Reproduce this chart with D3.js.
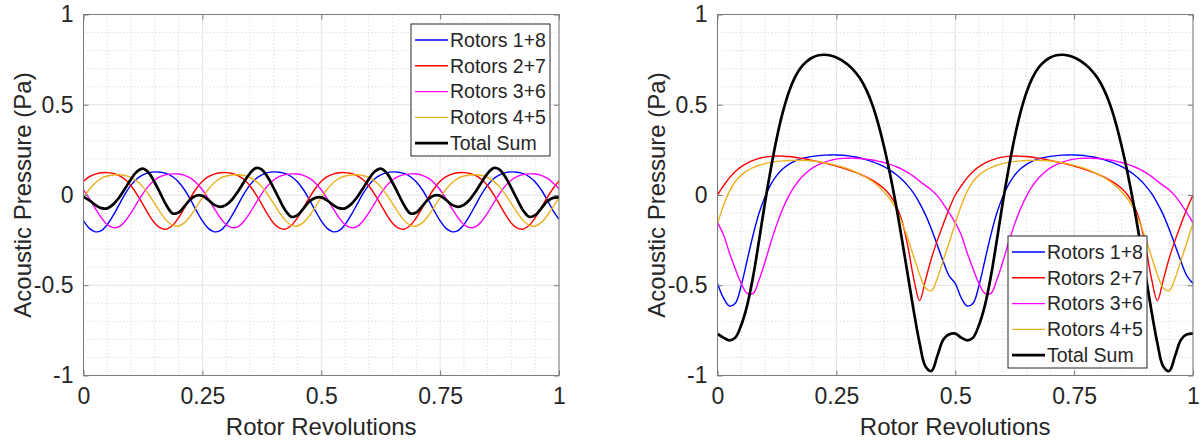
<!DOCTYPE html>
<html>
<head>
<meta charset="utf-8">
<script src="https://cdn.jsdelivr.net/npm/d3@7"></script>
<style>
  body { margin: 0; background: #fff; }
  svg { display: block; }
  text { font-family: "Liberation Sans", Arial, Helvetica, sans-serif; fill: #262626; }
</style>
</head>
<body>
<svg id="fig" width="1204" height="444"></svg>
<script>
// Sample positions along one rotor revolution (step 1/80).
const revs = d3.range(81).map(i => i / 80);

const seriesNames = ["Rotors 1+8", "Rotors 2+7", "Rotors 3+6", "Rotors 4+5", "Total Sum"];
const xTicks = [0, 0.25, 0.5, 0.75, 1];
const xTickLabels = ["0", "0.25", "0.5", "0.75", "1"];
const yTicks = [-1, -0.5, 0, 0.5, 1];
const yTickLabels = ["-1", "-0.5", "0", "0.5", "1"];
const xLabel = "Rotor Revolutions";
const yLabel = "Acoustic Pressure (Pa)";

// ---- Left panel: acoustic pressure per rotor pair (Pa) ----
const leftRotors18 = [
  -0.143,-0.185,-0.204,-0.197,-0.164,-0.113,-0.053,0.006,0.055,0.090,0.112,0.124,0.128,0.126,0.118,0.101,0.072,0.029,-0.026,-0.087,
  -0.143,-0.185,-0.204,-0.197,-0.164,-0.113,-0.053,0.006,0.055,0.090,0.112,0.124,0.128,0.126,0.118,0.101,0.072,0.029,-0.026,-0.087,
  -0.143,-0.185,-0.204,-0.197,-0.164,-0.113,-0.053,0.006,0.055,0.090,0.112,0.124,0.128,0.126,0.118,0.101,0.072,0.029,-0.026,-0.087,
  -0.143,-0.185,-0.204,-0.197,-0.164,-0.113,-0.053,0.006,0.055,0.090,0.112,0.124,0.128,0.126,0.118,0.101,0.072,0.029,-0.026,-0.087,
  -0.135];
const leftRotors27 = [
  0.076,0.102,0.116,0.123,0.124,0.119,0.108,0.086,0.051,0.003,-0.052,-0.109,-0.156,-0.184,-0.189,-0.168,-0.126,-0.071,-0.015,0.036,
  0.076,0.102,0.116,0.123,0.124,0.119,0.108,0.086,0.051,0.003,-0.052,-0.109,-0.156,-0.184,-0.189,-0.168,-0.126,-0.071,-0.015,0.036,
  0.076,0.102,0.116,0.123,0.124,0.119,0.108,0.086,0.051,0.003,-0.052,-0.109,-0.156,-0.184,-0.189,-0.168,-0.126,-0.071,-0.015,0.036,
  0.076,0.102,0.116,0.123,0.124,0.119,0.108,0.086,0.051,0.003,-0.052,-0.109,-0.156,-0.184,-0.189,-0.168,-0.126,-0.071,-0.015,0.036,
  0.078];
const leftRotors36 = [
  0.029,-0.021,-0.075,-0.126,-0.164,-0.181,-0.175,-0.145,-0.099,-0.045,0.008,0.052,0.083,0.103,0.113,0.117,0.116,0.109,0.093,0.067,
  0.029,-0.021,-0.075,-0.126,-0.164,-0.181,-0.175,-0.145,-0.099,-0.045,0.008,0.052,0.083,0.103,0.113,0.117,0.116,0.109,0.093,0.067,
  0.029,-0.021,-0.075,-0.126,-0.164,-0.181,-0.175,-0.145,-0.099,-0.045,0.008,0.052,0.083,0.103,0.113,0.117,0.116,0.109,0.093,0.067,
  0.029,-0.021,-0.075,-0.126,-0.164,-0.181,-0.175,-0.145,-0.099,-0.045,0.008,0.052,0.083,0.103,0.113,0.117,0.116,0.109,0.093,0.067,
  0.035];
const leftRotors45 = [
  -0.014,0.032,0.068,0.092,0.105,0.111,0.112,0.108,0.097,0.077,0.045,0.002,-0.048,-0.099,-0.142,-0.168,-0.172,-0.153,-0.115,-0.066,
  -0.014,0.032,0.068,0.092,0.105,0.111,0.112,0.108,0.097,0.077,0.045,0.002,-0.048,-0.099,-0.142,-0.168,-0.172,-0.153,-0.115,-0.066,
  -0.014,0.032,0.068,0.092,0.105,0.111,0.112,0.108,0.097,0.077,0.045,0.002,-0.048,-0.099,-0.142,-0.168,-0.172,-0.153,-0.115,-0.066,
  -0.014,0.032,0.068,0.092,0.105,0.111,0.112,0.108,0.097,0.077,0.045,0.002,-0.048,-0.099,-0.142,-0.168,-0.172,-0.153,-0.115,-0.066,
  -0.016];
const leftTotal = [
  -0.010,-0.030,-0.055,-0.073,-0.074,-0.052,-0.014,0.036,0.088,0.130,0.146,0.122,0.068,0.004,-0.060,-0.102,-0.097,-0.062,-0.024,-0.003,
  -0.004,-0.027,-0.055,-0.066,-0.055,-0.025,0.020,0.072,0.120,0.149,0.141,0.098,0.038,-0.027,-0.087,-0.121,-0.112,-0.075,-0.036,-0.016,
  -0.013,-0.030,-0.055,-0.073,-0.074,-0.052,-0.014,0.036,0.088,0.130,0.146,0.122,0.068,0.004,-0.060,-0.102,-0.097,-0.062,-0.024,-0.003,
  -0.004,-0.027,-0.055,-0.066,-0.055,-0.025,0.020,0.072,0.120,0.149,0.141,0.098,0.038,-0.027,-0.087,-0.121,-0.112,-0.075,-0.036,-0.016,
  -0.013];

// ---- Right panel: acoustic pressure per rotor pair (Pa) ----
const rightRotors18 = [
  -0.49,-0.57,-0.615,-0.60,-0.50,-0.36,-0.22,-0.10,-0.01,0.06,0.11,0.145,0.17,0.188,0.20,0.208,0.214,0.218,0.221,0.222,
  0.222,0.220,0.217,0.212,0.205,0.196,0.185,0.172,0.157,0.138,0.115,0.087,0.052,0.010,-0.045,-0.11,-0.19,-0.28,-0.37,-0.45,
  -0.49,-0.57,-0.615,-0.60,-0.50,-0.36,-0.22,-0.10,-0.01,0.06,0.11,0.145,0.17,0.188,0.20,0.208,0.214,0.218,0.221,0.222,
  0.222,0.220,0.217,0.212,0.205,0.196,0.185,0.172,0.157,0.138,0.115,0.087,0.052,0.010,-0.045,-0.11,-0.19,-0.28,-0.37,-0.45,
  -0.49];
const rightRotors27 = [
  0.000,0.050,0.095,0.130,0.157,0.177,0.192,0.203,0.210,0.214,0.216,0.215,0.213,0.209,0.204,0.198,0.191,0.184,0.177,0.169,
  0.160,0.150,0.140,0.128,0.115,0.100,0.082,0.062,0.036,0.000,-0.055,-0.14,-0.28,-0.46,-0.585,-0.47,-0.35,-0.25,-0.16,-0.075,
  0.000,0.050,0.095,0.130,0.157,0.177,0.192,0.203,0.210,0.214,0.216,0.215,0.213,0.209,0.204,0.198,0.191,0.184,0.177,0.169,
  0.160,0.150,0.140,0.128,0.115,0.100,0.082,0.062,0.036,0.000,-0.055,-0.14,-0.28,-0.46,-0.585,-0.47,-0.35,-0.25,-0.16,-0.075,
  0.000];
const rightRotors36 = [
  -0.153,-0.22,-0.32,-0.41,-0.49,-0.545,-0.545,-0.47,-0.37,-0.26,-0.16,-0.075,-0.005,0.05,0.093,0.125,0.150,0.168,0.182,0.192,
  0.199,0.203,0.204,0.204,0.202,0.199,0.194,0.188,0.180,0.170,0.158,0.143,0.125,0.103,0.077,0.052,0.028,-0.005,-0.05,-0.10,
  -0.153,-0.22,-0.32,-0.41,-0.49,-0.545,-0.545,-0.47,-0.37,-0.26,-0.16,-0.075,-0.005,0.05,0.093,0.125,0.150,0.168,0.182,0.192,
  0.199,0.203,0.204,0.204,0.202,0.199,0.194,0.188,0.180,0.170,0.158,0.143,0.125,0.103,0.077,0.052,0.028,-0.005,-0.05,-0.10,
  -0.153];
const rightRotors45 = [
  -0.157,-0.06,0.02,0.075,0.11,0.135,0.152,0.165,0.174,0.181,0.186,0.189,0.191,0.192,0.192,0.191,0.188,0.184,0.179,0.172,
  0.164,0.155,0.144,0.131,0.116,0.098,0.076,0.05,0.018,-0.022,-0.075,-0.15,-0.24,-0.34,-0.44,-0.515,-0.53,-0.46,-0.36,-0.26,
  -0.157,-0.06,0.02,0.075,0.11,0.135,0.152,0.165,0.174,0.181,0.186,0.189,0.191,0.192,0.192,0.191,0.188,0.184,0.179,0.172,
  0.164,0.155,0.144,0.131,0.116,0.098,0.076,0.05,0.018,-0.022,-0.075,-0.15,-0.24,-0.34,-0.44,-0.515,-0.53,-0.46,-0.36,-0.26,
  -0.157];
const rightTotal = [
  -0.77,-0.79,-0.805,-0.79,-0.72,-0.61,-0.45,-0.25,-0.04,0.15,0.32,0.46,0.57,0.65,0.705,0.74,0.762,0.774,0.777,0.773,
  0.762,0.745,0.72,0.688,0.645,0.585,0.505,0.40,0.27,0.12,-0.05,-0.24,-0.44,-0.64,-0.82,-0.95,-0.975,-0.89,-0.80,-0.772,
  -0.768,-0.79,-0.805,-0.79,-0.72,-0.61,-0.45,-0.25,-0.04,0.15,0.32,0.46,0.57,0.65,0.705,0.74,0.762,0.774,0.777,0.773,
  0.762,0.745,0.72,0.688,0.645,0.585,0.505,0.40,0.27,0.12,-0.05,-0.24,-0.44,-0.64,-0.82,-0.95,-0.975,-0.89,-0.80,-0.772,
  -0.768];

const seriesColors = ["#0000ff", "#ff0000", "#ff00ff", "#edb120", "#000000"];
const seriesWidths = [1.4, 1.4, 1.4, 1.4, 2.7];

const panels = [
  { id: "left",  x0: 83.5,  x1: 559,  legend: { x: 411,  y: 24 },
    series: [leftRotors18, leftRotors27, leftRotors36, leftRotors45, leftTotal] },
  { id: "right", x0: 717.5, x1: 1193, legend: { x: 1008, y: 236 },
    series: [rightRotors18, rightRotors27, rightRotors36, rightRotors45, rightTotal] }
];
const plotTop = 14.5, plotBottom = 375.5;

const svg = d3.select("#fig");

panels.forEach(p => {
  const x = d3.scaleLinear().domain([0, 1]).range([p.x0, p.x1]);
  const y = d3.scaleLinear().domain([-1, 1]).range([plotBottom, plotTop]);
  const g = svg.append("g").attr("class", "panel-" + p.id);

  // Minor grid (dotted)
  const near = (v, arr) => arr.some(t => Math.abs(t - v) < 1e-6);
  const xMinor = d3.range(0, 1.0001, 0.05).filter(v => !near(v, xTicks));
  const yMinor = d3.range(-1, 1.0001, 0.1).filter(v => !near(v, yTicks));
  g.append("g").selectAll("line").data(xMinor).join("line")
    .attr("x1", d => x(d)).attr("x2", d => x(d))
    .attr("y1", plotTop).attr("y2", plotBottom)
    .attr("stroke", "#d9d9d9").attr("stroke-width", 1).attr("stroke-dasharray", "1.2,2.4");
  g.append("g").selectAll("line").data(yMinor).join("line")
    .attr("x1", p.x0).attr("x2", p.x1)
    .attr("y1", d => y(d)).attr("y2", d => y(d))
    .attr("stroke", "#d9d9d9").attr("stroke-width", 1).attr("stroke-dasharray", "1.2,2.4");

  // Major grid (solid)
  g.append("g").selectAll("line").data(xTicks).join("line")
    .attr("x1", d => x(d)).attr("x2", d => x(d))
    .attr("y1", plotTop).attr("y2", plotBottom)
    .attr("stroke", "#e2e2e2").attr("stroke-width", 1);
  g.append("g").selectAll("line").data(yTicks).join("line")
    .attr("x1", p.x0).attr("x2", p.x1)
    .attr("y1", d => y(d)).attr("y2", d => y(d))
    .attr("stroke", "#e2e2e2").attr("stroke-width", 1);

  // Curves
  const clipId = "clip-" + p.id;
  svg.append("defs").append("clipPath").attr("id", clipId)
    .append("rect").attr("x", p.x0).attr("y", plotTop)
    .attr("width", p.x1 - p.x0).attr("height", plotBottom - plotTop);
  const line = d3.line()
    .x((d, i) => x(revs[i]))
    .y(d => y(d))
    .curve(d3.curveCatmullRom.alpha(0.5));
  const curves = g.append("g").attr("clip-path", `url(#${clipId})`);
  p.series.forEach((vals, si) => {
    curves.append("path").datum(vals)
      .attr("d", line)
      .attr("fill", "none")
      .attr("stroke", seriesColors[si])
      .attr("stroke-width", seriesWidths[si])
      .attr("stroke-linejoin", "round");
  });

  // Axes with inward ticks on all four sides
  const fmtX = (d, i) => xTickLabels[i];
  const fmtY = (d, i) => yTickLabels[i];
  const axColor = "#7a7a7a";
  const styleAxis = sel => {
    sel.select(".domain").remove();
    sel.selectAll(".tick line").attr("stroke", axColor);
    sel.selectAll("text").style("font-size", "23px").attr("fill", "#262626");
  };
  g.append("g").attr("transform", `translate(0,${plotBottom})`)
    .call(d3.axisBottom(x).tickValues(xTicks).tickFormat(fmtX).tickSizeInner(-5).tickSizeOuter(0).tickPadding(12))
    .call(styleAxis);
  g.append("g").attr("transform", `translate(0,${plotTop})`)
    .call(d3.axisTop(x).tickValues(xTicks).tickFormat("").tickSizeInner(-5).tickSizeOuter(0))
    .call(styleAxis);
  g.append("g").attr("transform", `translate(${p.x0},0)`)
    .call(d3.axisLeft(y).tickValues(yTicks).tickFormat(fmtY).tickSizeInner(-5).tickSizeOuter(0).tickPadding(10))
    .call(styleAxis);
  g.append("g").attr("transform", `translate(${p.x1},0)`)
    .call(d3.axisRight(y).tickValues(yTicks).tickFormat("").tickSizeInner(-5).tickSizeOuter(0))
    .call(styleAxis);
  g.selectAll(".tick text").attr("font-family", null);

  // Axes box
  g.append("rect")
    .attr("x", p.x0).attr("y", plotTop)
    .attr("width", p.x1 - p.x0).attr("height", plotBottom - plotTop)
    .attr("fill", "none").attr("stroke", axColor).attr("stroke-width", 1);

  // Axis titles
  g.append("text")
    .attr("x", (p.x0 + p.x1) / 2).attr("y", 435)
    .attr("text-anchor", "middle").style("font-size", "24px")
    .text(xLabel);
  g.append("text")
    .attr("transform", `translate(${p.x0 - 53},${(plotTop + plotBottom) / 2}) rotate(-90)`)
    .attr("text-anchor", "middle").style("font-size", "24px")
    .text(yLabel);

  // Legend
  const lg = g.append("g").attr("transform", `translate(${p.legend.x},${p.legend.y})`);
  lg.append("rect").attr("x", 0).attr("y", 0).attr("width", 139).attr("height", 132)
    .attr("fill", "#fff").attr("stroke", "#262626").attr("stroke-width", 1);
  seriesNames.forEach((name, i) => {
    const cy = 16 + i * 25.8;
    lg.append("line").attr("x1", 4).attr("x2", 37).attr("y1", cy).attr("y2", cy)
      .attr("stroke", seriesColors[i]).attr("stroke-width", seriesWidths[i]);
    lg.append("text").attr("x", 39).attr("y", cy).attr("dy", "0.35em")
      .style("font-size", "19.5px").text(name);
  });
});
</script>
</body>
</html>
